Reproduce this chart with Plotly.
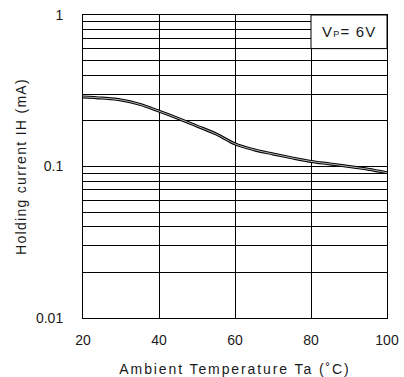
import math
import plotly.graph_objects as go

temps = [20, 25, 30, 35, 40, 45, 50, 55, 60, 65, 70, 75, 80, 85, 90, 95, 100]
holding_ma = [0.288, 0.283, 0.275, 0.257, 0.232, 0.208, 0.185, 0.164, 0.141,
              0.129, 0.121, 0.114, 0.108, 0.104, 0.100, 0.096, 0.091]

x_ticks = [20, 40, 60, 80, 100]
y_ticks = [0.01, 0.1, 1]
y_tick_text = ["0.01", "0.1", "1"]
y_minor = [m * d for d in (0.01, 0.1) for m in range(2, 10)]

FONT = "Liberation Sans, Arial, sans-serif"
TXT = "#1a1a1a"

fig = go.Figure()
fig.add_trace(go.Scatter(x=temps, y=holding_ma, mode="lines", line_shape="spline",
                         line=dict(color="black", width=3.0), hoverinfo="skip",
                         showlegend=False))
fig.add_trace(go.Scatter(x=temps, y=holding_ma, mode="lines", line_shape="spline",
                         line=dict(color="#c8c8c8", width=0.9), hoverinfo="skip",
                         showlegend=False))

fig.add_shape(type="rect", xref="x", yref="y", x0=80, x1=100, y0=0.6, y1=1,
              fillcolor="white", line=dict(color="black", width=1), layer="above")
fig.add_annotation(x=90, y=math.log10(0.775), xref="x", yref="y", showarrow=False,
                   text="<span style='letter-spacing:1.2px'>V<span style='font-size:9px'>P</span>= 6V</span>",
                   font=dict(family=FONT, size=15, color=TXT))

fig.update_layout(
    width=404, height=377,
    margin=dict(l=83, r=17, t=15, b=59, autoexpand=False),
    paper_bgcolor="white", plot_bgcolor="white",
    font=dict(family=FONT, size=14, color=TXT),
    xaxis=dict(range=[20, 100], tickvals=x_ticks, showgrid=True, gridcolor="black",
               gridwidth=1, zeroline=False, showline=True, linecolor="black",
               linewidth=1, mirror=True, ticks="", ticklen=0, automargin=False,
               ticklabelstandoff=9, tickfont=dict(size=14, color=TXT),
               title=dict(text="<span style='letter-spacing:1.9px'>Ambient Temperature Ta (˚C)</span>",
                          standoff=18, font=dict(size=14, color=TXT))),
    yaxis=dict(type="log", range=[-2, 0], tickvals=y_ticks, ticktext=y_tick_text,
               showgrid=True, gridcolor="black", gridwidth=1, zeroline=False,
               showline=True, linecolor="black", linewidth=1, mirror=True,
               ticks="", ticklen=0, ticklabelstandoff=16, automargin=False,
               tickfont=dict(size=14, color=TXT),
               minor=dict(tickvals=y_minor, showgrid=True, gridcolor="black",
                          gridwidth=1, ticks=""),
               title=dict(text="<span style='letter-spacing:1.3px'>Holding current IH (mA)</span>",
                          standoff=6, font=dict(size=14, color=TXT))),
)

fig.write_html("out.html")
